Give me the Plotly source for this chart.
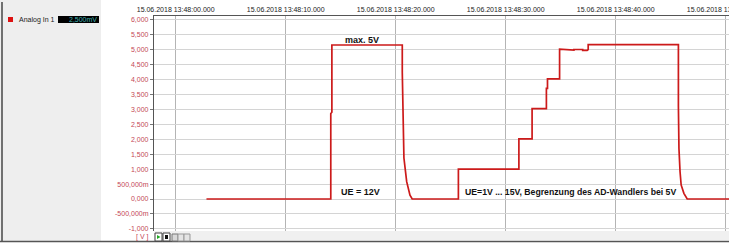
import pandas as pd
import plotly.graph_objects as go

# ---------------- data (seconds after 15.06.2018 13:48:00, volts) ----------------
time_s = [2.8, 14.1, 14.1, 14.2, 14.2, 20.6, 20.6, 20.66, 20.75, 21.0, 21.3, 21.5,
          25.7, 25.7, 31.2, 31.2, 32.4, 32.4, 33.7, 33.7, 33.8, 33.8, 34.9, 34.9,
          35.8, 35.8, 36.2, 36.2, 37.0, 37.0, 37.4, 37.5, 37.5, 45.7, 45.7, 45.75,
          45.85, 45.95, 46.2, 46.5, 50.5]
voltage_v = [0.0, 0.0, 2.86, 2.9, 5.15, 5.15, 4.24, 2.5, 1.37, 0.58, 0.13, 0.0,
             0.0, 1.0, 1.0, 2.01, 2.01, 3.02, 3.02, 3.7, 3.7, 4.02, 4.02, 5.01,
             5.0, 4.98, 4.98, 5.0, 5.0, 4.97, 4.97, 5.0, 5.16, 5.16, 3.1, 1.69,
             0.91, 0.47, 0.19, 0.0, 0.0]

y_tick_values = [-1.0, -0.5, 0.0, 0.5, 1.0, 1.5, 2.0, 2.5, 3.0, 3.5, 4.0, 4.5, 5.0, 5.5, 6.0]
y_tick_labels = ["-1,000", "-500,000m", "0,000", "500,000m", "1,000", "1,500", "2,000",
                 "2,500", "3,000", "3,500", "4,000", "4,500", "5,000", "5,500", "6,000"]
x_tick_seconds = [0, 10, 20, 30, 40, 50]
x_tick_labels = ["15.06.2018 13:48:00.000", "15.06.2018 13:48:10.000",
                 "15.06.2018 13:48:20.000", "15.06.2018 13:48:30.000",
                 "15.06.2018 13:48:40.000", "15.06.2018 13:48:50.000"]
x_range_seconds = [-1.97, 50.3]
y_range = [-1.07, 6.12]

series_name = "Analog In 1"
series_readout = "2,500mV"
unit_label = "[ V ]"
notes = [  # (text, seconds, volts, anchor, size)
    ("max. 5V", 16.9, 5.33, "center", 9),
    ("UE = 12V", 16.8, 0.25, "center", 9),
    ("UE=1V ... 15V, Begrenzung des AD-Wandlers bei 5V", 26.15, 0.25, "left", 8.7),
]

base = pd.Timestamp("2018-06-15 13:48:00")


def ts(seconds):
    return [(base + pd.Timedelta(seconds=s)).strftime("%Y-%m-%d %H:%M:%S.%f") for s in seconds]


FONT = "Liberation Sans, Arial, sans-serif"
RED_TXT = "#c44856"
W, H = 729, 250
L, R, T, B = 154, 0, 16, 19
PW, PH = W - L - R, H - T - B


def px(x):
    return (x - L) / PW


def py(y):
    return (H - B - y) / PH


fig = go.Figure()
fig.add_trace(go.Scatter(
    x=ts(time_s), y=voltage_v, mode="lines", name=series_name,
    line=dict(color="#cc1a1a", width=1.7), showlegend=False,
))

shapes = [
    # left grey panel
    dict(type="rect", xref="paper", yref="paper", x0=px(0), x1=px(101), y0=py(241), y1=py(0),
         fillcolor="#eeeeee", line=dict(width=0), layer="below"),
    # left dark border
    dict(type="rect", xref="paper", yref="paper", x0=px(1), x1=px(3), y0=py(241), y1=py(2),
         fillcolor="#707070", line=dict(width=0)),
    # bottom scroll band
    dict(type="rect", xref="paper", yref="paper", x0=px(154), x1=px(729), y0=py(240), y1=py(231),
         fillcolor="#f0f0f0", line=dict(width=0)),
    # bottom border line
    dict(type="line", xref="paper", yref="paper", x0=px(0), x1=px(729), y0=py(241.5), y1=py(241.5),
         line=dict(color="#555555", width=1.5)),
    # legend marker
    dict(type="rect", xref="paper", yref="paper", x0=px(8), x1=px(13), y0=py(22), y1=py(17),
         fillcolor="#dd1111", line=dict(width=0)),
    # readout box
    dict(type="rect", xref="paper", yref="paper", x0=px(58), x1=px(99), y0=py(23), y1=py(16),
         fillcolor="#000000", line=dict(width=0)),
    # toolbar icons
    dict(type="rect", xref="paper", yref="paper", x0=px(155), x1=px(162), y0=py(241), y1=py(233),
         fillcolor="#ffffff", line=dict(color="#444444", width=1)),
    dict(type="path", xref="paper", yref="paper",
         path=f"M {px(157)} {py(235)} L {px(157)} {py(239)} L {px(160.5)} {py(237)} Z",
         fillcolor="#22aa22", line=dict(width=0)),
    dict(type="rect", xref="paper", yref="paper", x0=px(163), x1=px(170), y0=py(241), y1=py(233),
         fillcolor="#ffffff", line=dict(color="#444444", width=1)),
    dict(type="rect", xref="paper", yref="paper", x0=px(165), x1=px(168), y0=py(239), y1=py(235),
         fillcolor="#111111", line=dict(width=0)),
    dict(type="rect", xref="paper", yref="paper", x0=px(172), x1=px(178), y0=py(241), y1=py(234),
         fillcolor="#d8d8d8", line=dict(color="#777777", width=1)),
    dict(type="rect", xref="paper", yref="paper", x0=px(178), x1=px(184), y0=py(241), y1=py(234),
         fillcolor="#e4e4e4", line=dict(color="#999999", width=1)),
    dict(type="rect", xref="paper", yref="paper", x0=px(184), x1=px(190), y0=py(241), y1=py(234),
         fillcolor="#e4e4e4", line=dict(color="#999999", width=1)),
]

annotations = [
    dict(xref="paper", yref="paper", x=px(17), y=py(19.5), text=series_name, showarrow=False,
         xanchor="left", yanchor="middle", font=dict(family=FONT, size=7, color="#222222")),
    dict(xref="paper", yref="paper", x=px(98.5), y=py(19.5), text=series_readout, showarrow=False,
         xanchor="right", yanchor="middle", font=dict(family=FONT, size=7, color="#3fb0b0")),
    dict(xref="paper", yref="paper", x=px(151), y=py(237), text=unit_label, showarrow=False,
         xanchor="right", yanchor="middle", font=dict(family=FONT, size=7, color=RED_TXT)),
]
for text, sec, volts, anchor, size in notes:
    annotations.append(dict(
        x=ts([sec])[0], y=volts, xref="x", yref="y", text=f"<b>{text}</b>", showarrow=False,
        xanchor=anchor, yanchor="middle", font=dict(family=FONT, size=size, color="#111111"),
    ))

fig.update_layout(
    width=W, height=H,
    margin=dict(l=L, r=R, t=T, b=B, pad=0, autoexpand=False),
    paper_bgcolor="#ffffff", plot_bgcolor="#ffffff",
    showlegend=False,
    shapes=shapes, annotations=annotations,
    xaxis=dict(
        type="date", side="top", range=ts(x_range_seconds), automargin=False,
        tickvals=ts(x_tick_seconds), ticktext=x_tick_labels, ticklabeloverflow="allow",
        tickfont=dict(family=FONT, size=7, color="#222222"),
        showgrid=True, gridcolor="#b4b4b4", gridwidth=1,
        showline=True, linecolor="#555555", linewidth=1.2,
        ticks="", zeroline=False, fixedrange=True,
    ),
    yaxis=dict(
        range=y_range, tickvals=y_tick_values, ticktext=y_tick_labels, automargin=False,
        tickfont=dict(family=FONT, size=7, color=RED_TXT),
        showgrid=True, gridcolor="#d4d4d4", gridwidth=1,
        showline=True, linecolor="#555555", linewidth=1.2,
        ticks="outside", ticklen=3, tickcolor="#777777", zeroline=False, fixedrange=True,
    ),
)

fig.write_html("out.html")
